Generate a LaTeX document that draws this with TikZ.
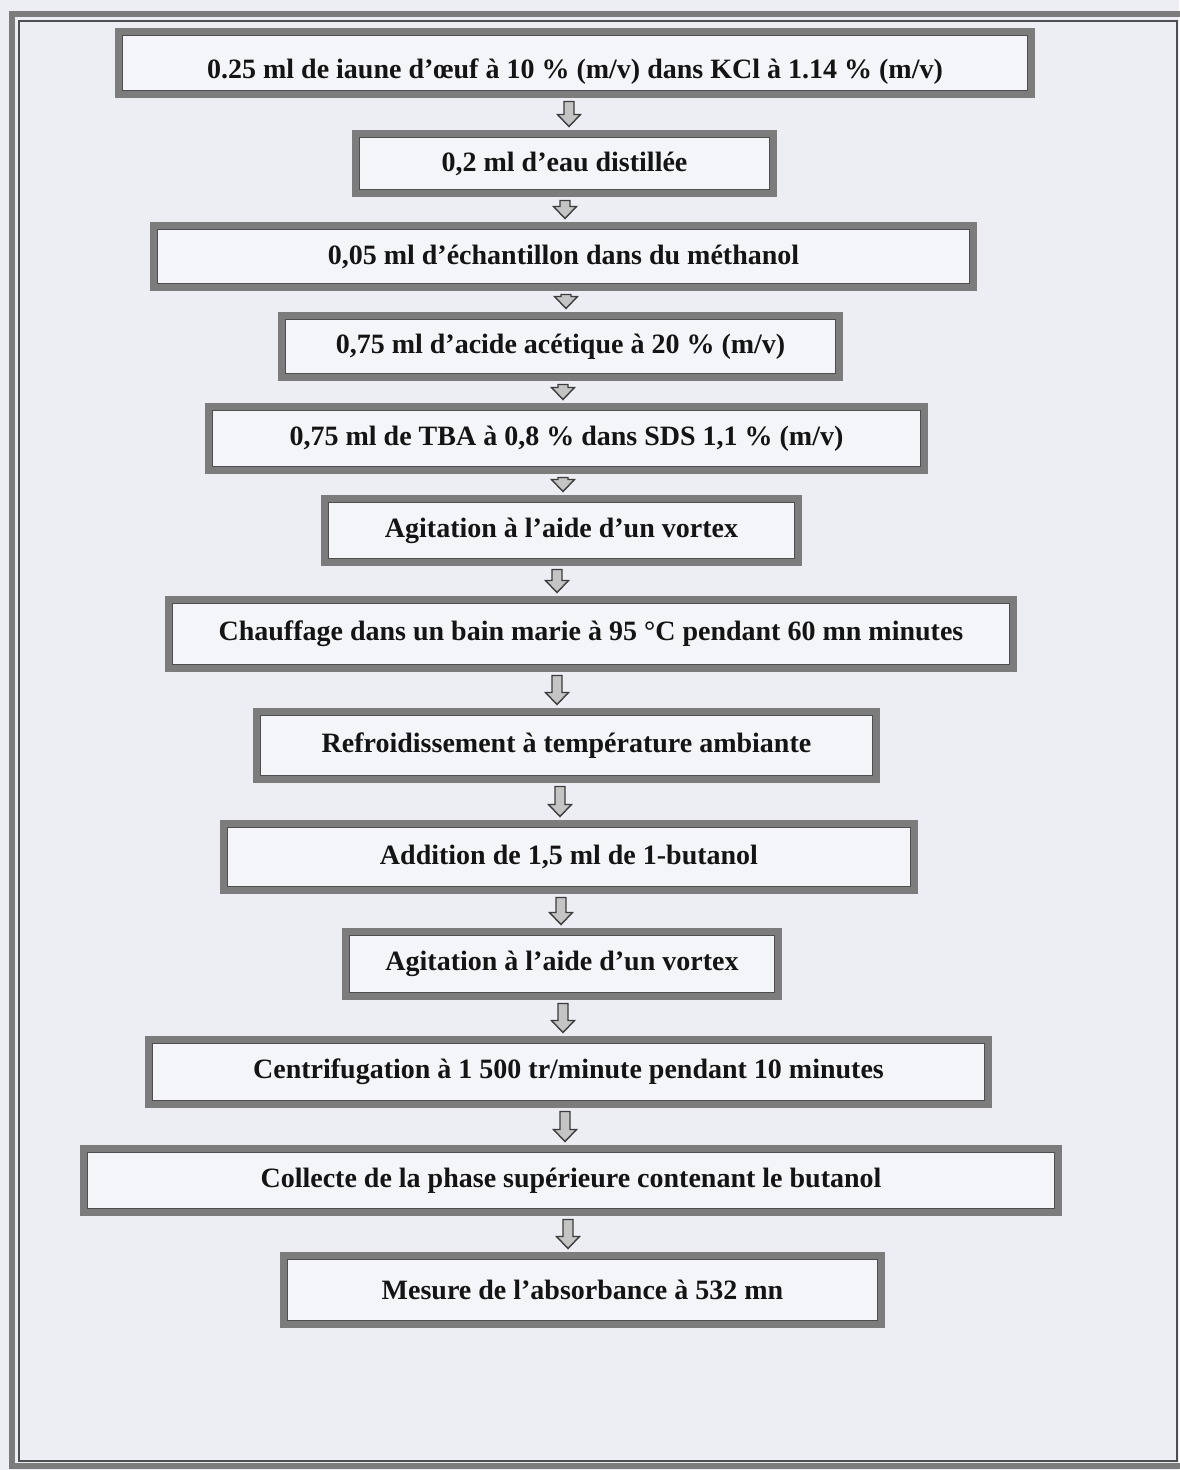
\documentclass[tikz,border=0pt]{standalone}
\usepackage{fontspec}
\setmainfont{Liberation Serif}
\usetikzlibrary{calc}
\definecolor{pagebg}{HTML}{ECEEF4}
\definecolor{boxbg}{HTML}{F4F5F8}
\definecolor{band}{HTML}{7C7C7C}
\definecolor{thin}{HTML}{4E4E4E}
\definecolor{txt}{HTML}{141414}
\definecolor{arrfill}{HTML}{C4C4C4}
\definecolor{arrline}{HTML}{3C3C3C}
\tikzset{
  stepbox/.style={draw=band, line width=7pt, fill=boxbg, inner sep=0pt,
    font=\fontsize{28}{32}\selectfont\bfseries, text=txt},
  innerline/.style={draw=thin, line width=1.8pt},
  frameband/.style={draw=band, line width=6pt},
  blockarrow/.style={draw=arrline, fill=arrfill, line width=1.4pt, line join=miter,
    to path={let \p1=(\tikztostart), \p2=(\tikztotarget) in
      (\x1-5pt,\y1) -- (\x1-5pt,\y2+12pt) -- (\x1-11.5pt,\y2+12pt) -- (\x1,\y2)
      -- (\x1+11.5pt,\y2+12pt) -- (\x1+5pt,\y2+12pt) -- (\x1+5pt,\y1) -- cycle}}
}
\begin{document}
\begin{tikzpicture}[x=1pt,y=-1pt]
\useasboundingbox (0,0) rectangle (1179,1470);
\fill[pagebg] (0,0) rectangle (1179,1470);
% outer frame
\draw[frameband] (12,14) rectangle (1186,1466);
\draw[draw=thin, line width=1.5pt] (19,21) rectangle (1177,1461);

% boxes: centre (cx,cy), outer width W, outer height H -> minimum size W-7, H-7
\node[stepbox, minimum width=913pt, minimum height=63pt] (b1) at (575,63)
  {\raisebox{-15pt}[0pt][0pt]{0.25 ml de iaune d’œuf à 10 \% (m/v) dans KCl à 1.14 \% (m/v)}};
\node[stepbox, minimum width=418pt, minimum height=60pt] (b2) at (564.5,163.5)
  {0,2 ml d’eau distillée};
\node[stepbox, minimum width=820pt, minimum height=62pt] (b3) at (563.5,256.5)
  {0,05 ml d’échantillon dans du méthanol};
\node[stepbox, minimum width=558pt, minimum height=62pt] (b4) at (560.5,346.5)
  {0,75 ml d’acide acétique à 20 \% (m/v)};
\node[stepbox, minimum width=716pt, minimum height=64pt] (b5) at (566.5,438.5)
  {0,75 ml de TBA à 0,8 \% dans SDS 1,1 \% (m/v)};
\node[stepbox, minimum width=474pt, minimum height=64pt] (b6) at (561.5,530.5)
  {Agitation à l’aide d’un vortex};
\node[stepbox, minimum width=845pt, minimum height=69pt] (b7) at (591,634)
  {Chauffage dans un bain marie à 95 °C pendant 60 mn minutes};
\node[stepbox, minimum width=620pt, minimum height=68pt] (b8) at (566.5,745.5)
  {Refroidissement à température ambiante};
\node[stepbox, minimum width=691pt, minimum height=67pt] (b9) at (569,857)
  {Addition de 1,5 ml de 1-butanol};
\node[stepbox, minimum width=433pt, minimum height=65pt] (b10) at (562,964)
  {Agitation à l’aide d’un vortex};
\node[stepbox, minimum width=840pt, minimum height=65pt] (b11) at (568.5,1072)
  {Centrifugation à 1 500 tr/minute pendant 10 minutes};
\node[stepbox, minimum width=975pt, minimum height=64pt] (b12) at (571,1180.5)
  {Collecte de la phase supérieure contenant le butanol};
\node[stepbox, minimum width=598pt, minimum height=69pt] (b13) at (582.5,1290)
  {Mesure de l’absorbance à 532 mn};

% inner thin lines
\foreach \n in {b1,b2,b3,b4,b5,b6,b7,b8,b9,b10,b11,b12,b13}{
  \draw[innerline] ([shift={(7.5pt,-7.5pt)}]\n.north west) rectangle ([shift={(-7.5pt,7.5pt)}]\n.south east);
}

% arrows
\foreach \a/\b/\x in {b1/b2/569, b2/b3/565, b3/b4/566, b4/b5/563, b5/b6/563, b6/b7/557,
                      b7/b8/557, b8/b9/560, b9/b10/561, b10/b11/563, b11/b12/565, b12/b13/568}{
  \coordinate (ax) at (\x,0);
  \draw[blockarrow] ([yshift=-3.5pt]\a.south -| ax) to ([yshift=3.5pt]\b.north -| ax);
}
\end{tikzpicture}
\end{document}
